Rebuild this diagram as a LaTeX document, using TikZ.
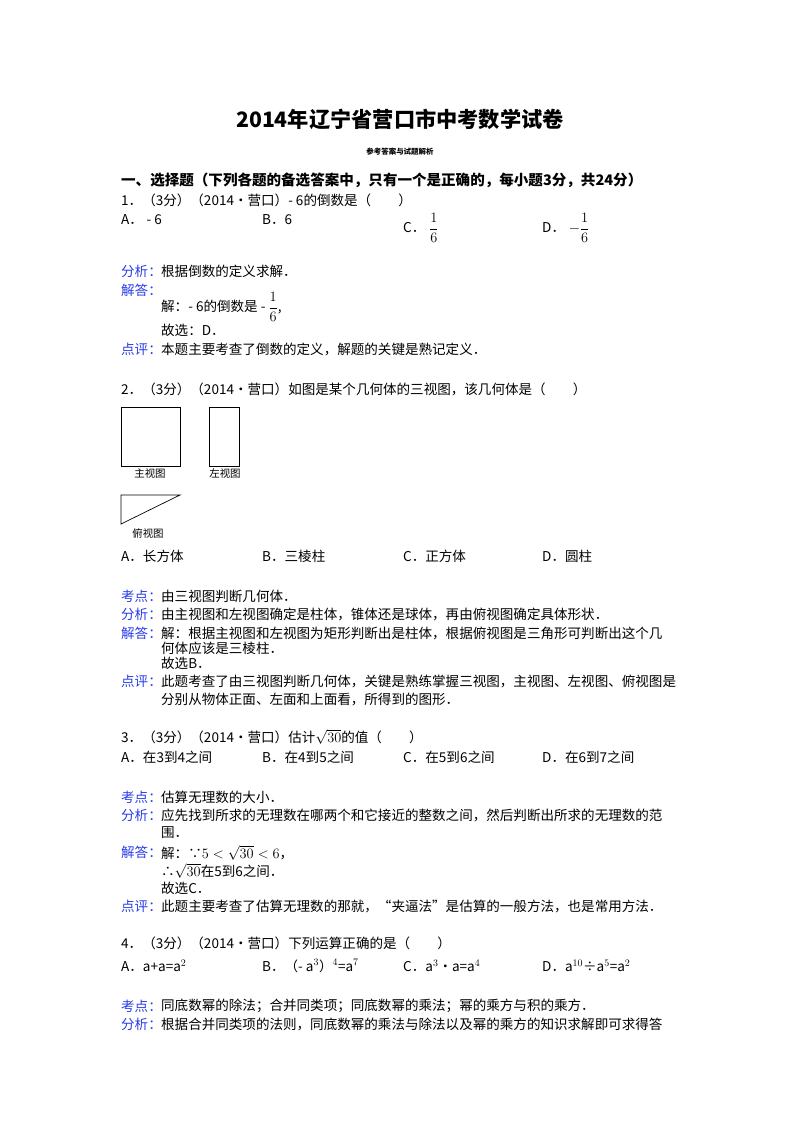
\documentclass[tikz,border=0pt]{standalone}
\usepackage{amsmath}
\usepackage{fontspec}
\setmainfont{Liberation Serif}
\newfontfamily\cjk{Noto Sans CJK SC}
\definecolor{lab}{RGB}{40,60,230}
\tikzset{tx/.style={anchor=west,inner sep=0pt,font=\cjk\fontsize{13.6}{15}\selectfont},
lb/.style={tx,text=lab},
fig/.style={draw,line width=0.7pt}}
\newcommand{\rt}{\sqrt{30}}
\begin{document}
\begin{tikzpicture}[x=1bp,y=-1bp]
\useasboundingbox (0,0) rectangle (800,1132);
\node[anchor=center,inner sep=0pt,font=\cjk\bfseries\fontsize{21.3}{24}\selectfont] (title) at (400,119) {2014年辽宁省营口市中考数学试卷};
\node[anchor=center,inner sep=0pt,font=\cjk\bfseries\fontsize{7.5}{8}\selectfont] (sub) at (400,152) {参考答案与试题解析};
\node[tx,font=\cjk\bfseries\fontsize{14.6}{15}\selectfont] (h1) at (121,180) {一、选择题（下列各题的备选答案中，只有一个是正确的，每小题3分，共24分）};
% Q1
\node[tx] (q1) at (121,200) {1．（3分）（2014•营口）- 6的倒数是（\quad\quad）};
\node[tx] (q1a) at (121,220) {A．\;- 6};
\node[tx] (q1b) at (262,220) {B．6};
\node[tx] (q1c) at (403,228) {C．\;$\dfrac{1}{6}$};
\node[tx] (q1d) at (542,228) {D．\;$-\dfrac{1}{6}$};
\node[lb] (l1) at (121,271) {分析：};
\node[tx] (t1) at (161,271) {根据倒数的定义求解．};
\node[lb] (l2) at (121,290) {解答：};
\node[tx] (t2) at (161,307) {解：- 6的倒数是 - $\dfrac{1}{6}$,};
\node[tx] (t3) at (161,330) {故选：D．};
\node[lb] (l3) at (121,349) {点评：};
\node[tx] (t4) at (161,349) {本题主要考查了倒数的定义，解题的关键是熟记定义．};
% Q2
\node[tx] (q2) at (121,389) {2．（3分）（2014•营口）如图是某个几何体的三视图，该几何体是（\quad\quad）};
\draw[fig] (121,407) rectangle (180,466);
\draw[fig] (209,407) rectangle (239,466);
\node[anchor=center,inner sep=0pt,font=\cjk\fontsize{10.5}{12}\selectfont] (f1) at (150,474) {主视图};
\node[anchor=center,inner sep=0pt,font=\cjk\fontsize{10.5}{12}\selectfont] (f2) at (225,474) {左视图};
\draw[fig] (121,495) -- (180,495) -- (121,524) -- cycle;
\node[anchor=center,inner sep=0pt,font=\cjk\fontsize{10.5}{12}\selectfont] (f3) at (148,533) {俯视图};
\node[tx] (q2a) at (121,556) {A．长方体};
\node[tx] (q2b) at (262,556) {B．三棱柱};
\node[tx] (q2c) at (403,556) {C．正方体};
\node[tx] (q2d) at (542,556) {D．圆柱};
\node[lb] (m1) at (121,596) {考点：};
\node[tx] (s1) at (161,596) {由三视图判断几何体．};
\node[lb] (m2) at (121,614) {分析：};
\node[tx] (s2) at (161,614) {由主视图和左视图确定是柱体，锥体还是球体，再由俯视图确定具体形状．};
\node[lb] (m3) at (121,633) {解答：};
\node[tx] (s3) at (161,633) {解：根据主视图和左视图为矩形判断出是柱体，根据俯视图是三角形可判断出这个几};
\node[tx] (s4) at (161,648) {何体应该是三棱柱．};
\node[tx] (s5) at (161,663) {故选B．};
\node[lb] (m4) at (121,681) {点评：};
\node[tx] (s6) at (161,681) {此题考查了由三视图判断几何体，关键是熟练掌握三视图，主视图、左视图、俯视图是};
\node[tx] (s7) at (161,699) {分别从物体正面、左面和上面看，所得到的图形．};
% Q3
\node[tx] (q3) at (121,737) {3．（3分）（2014•营口）估计$\rt$的值（\quad\quad）};
\node[tx] (q3a) at (121,757) {A．在3到4之间};
\node[tx] (q3b) at (262,757) {B．在4到5之间};
\node[tx] (q3c) at (403,757) {C．在5到6之间};
\node[tx] (q3d) at (542,757) {D．在6到7之间};
\node[lb] (n1) at (121,797) {考点：};
\node[tx] (u1) at (161,797) {估算无理数的大小．};
\node[lb] (n2) at (121,815) {分析：};
\node[tx] (u2) at (161,815) {应先找到所求的无理数在哪两个和它接近的整数之间，然后判断出所求的无理数的范};
\node[tx] (u3) at (161,833) {围．};
\node[lb] (n3) at (121,852) {解答：};
\node[tx] (u4) at (161,853) {解：∵$5<\rt<6$，};
\node[tx] (u5) at (161,871) {∴$\rt$在5到6之间．};
\node[tx] (u6) at (161,888) {故选C．};
\node[lb] (n4) at (121,906) {点评：};
\node[tx] (u7) at (161,906) {此题主要考查了估算无理数的那就，“夹逼法”是估算的一般方法，也是常用方法．};
% Q4
\node[tx] (q4) at (121,943) {4．（3分）（2014•营口）下列运算正确的是（\quad\quad）};
\node[tx] (q4a) at (121,966) {A．a+a=a$^2$};
\node[tx] (q4b) at (262,966) {B．（- a$^3$）$^4$=a$^7$};
\node[tx] (q4c) at (403,966) {C．a$^3$•a=a$^4$};
\node[tx] (q4d) at (542,966) {D．a$^{10}$÷a$^5$=a$^2$};
\node[lb] (p1) at (121,1006) {考点：};
\node[tx] (v1) at (161,1006) {同底数幂的除法；合并同类项；同底数幂的乘法；幂的乘方与积的乘方．};
\node[lb] (p2) at (121,1024) {分析：};
\node[tx] (v2) at (161,1024) {根据合并同类项的法则，同底数幂的乘法与除法以及幂的乘方的知识求解即可求得答};
\end{tikzpicture}
\end{document}
